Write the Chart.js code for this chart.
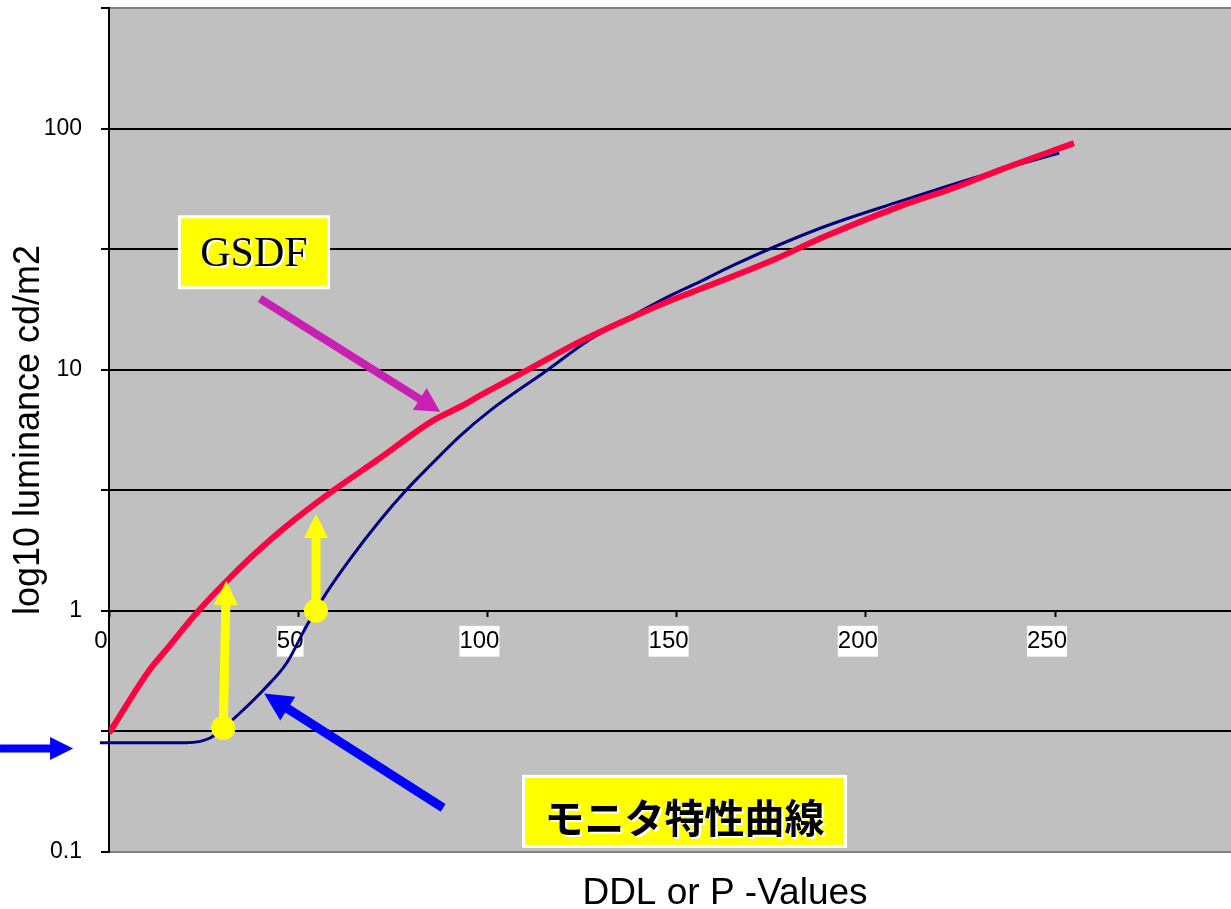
<!DOCTYPE html>
<html>
<head>
<meta charset="utf-8">
<script src="https://cdn.jsdelivr.net/npm/chart.js@4.4.1/dist/chart.umd.min.js"></script>
<style>
  html, body { margin: 0; padding: 0; background: #fff; }
</style>
</head>
<body>
<canvas id="lumGraph" width="1231" height="909"></canvas>
<script>
// GSDF (red) and monitor characteristic curve (navy)
var gsdfX = [0, 10.8, 14.8, 23.2, 31.1, 38.1, 47.0, 59.2, 70.7, 85.6, 92.8, 98.0, 110.4, 124.4, 138.5, 151.7, 156.2, 175.5, 187.9, 209.0, 223.0, 235.5, 255.0];
var gsdfY = [0.311, 0.571, 0.68, 0.983, 1.33, 1.70, 2.25, 3.15, 4.20, 6.15, 7.02, 7.8, 9.93, 13.07, 16.6, 20.3, 21.6, 28.5, 35.0, 47.6, 56.6, 67.4, 87.0];

var monitorX = [-2.4, 20.5, 26.7, 30.2, 34.6, 40.8, 47.0, 52.2, 57.5, 63.7, 71.6, 78.8, 84.8, 92.8, 100.7, 115.7, 126.2, 140.3, 148.3, 156.2, 164.9, 187.9, 209.0, 221.5, 235.5, 251.1];
var monitorY = [0.284, 0.284, 0.297, 0.327, 0.377, 0.47, 0.609, 0.865, 1.19, 1.64, 2.37, 3.20, 4.00, 5.32, 6.77, 9.93, 13.07, 17.4, 20.3, 23.2, 27.1, 38.6, 49.9, 57.7, 67.4, 79.1];

var xTicks = [0, 50, 100, 150, 200, 250];
var yTicks = [0.1, 0.3162, 1, 3.162, 10, 31.62, 100, 316.2];
var yLabels = ['0.1', '', '1', '', '10', '', '100', ''];

function toPoints(xs, ys) {
    var pts = [];
    for (var i in xs) {
        pts.push({x: xs[i], y: ys[i]});
    }
    return pts;
}

function arrow(ctx, x1, y1, x2, y2, color, lw, headLen, headW) {
    var a = Math.atan2(y2 - y1, x2 - x1);
    var bx = x2 - headLen * Math.cos(a), by = y2 - headLen * Math.sin(a);
    ctx.strokeStyle = color;
    ctx.lineWidth = lw;
    ctx.lineCap = 'butt';
    ctx.beginPath();
    ctx.moveTo(x1, y1);
    ctx.lineTo(bx + Math.cos(a), by + Math.sin(a));
    ctx.stroke();
    ctx.fillStyle = color;
    ctx.beginPath();
    ctx.moveTo(x2, y2);
    ctx.lineTo(bx + headW / 2 * Math.sin(a), by - headW / 2 * Math.cos(a));
    ctx.lineTo(bx - headW / 2 * Math.sin(a), by + headW / 2 * Math.cos(a));
    ctx.closePath();
    ctx.fill();
}

function labelBox(ctx, cx, cy, w, h, text, font, dy) {
    ctx.fillStyle = '#fff';
    ctx.fillRect(cx - w / 2, cy - h / 2, w, h);
    ctx.fillStyle = '#ffff00';
    ctx.fillRect(cx - w / 2 + 3, cy - h / 2 + 3, w - 6, h - 6);
    ctx.font = font;
    ctx.textAlign = 'center';
    ctx.textBaseline = 'middle';
    ctx.fillStyle = '#fff';
    ctx.fillText(text, cx + 2, cy + dy + 2);
    ctx.fillStyle = '#000';
    ctx.fillText(text, cx, cy + dy);
}

var backgroundPlugin = {
    id: 'plotBackground',
    beforeDraw: function(chart) {
        var ctx = chart.ctx, a = chart.chartArea;
        ctx.save();
        ctx.fillStyle = '#fff';
        ctx.fillRect(0, 0, chart.width, chart.height);
        ctx.fillStyle = '#c0c0c0';
        ctx.fillRect(a.left, a.top, a.right - a.left, a.bottom - a.top);
        ctx.restore();
    }
};

var notesPlugin = {
    id: 'notes',
    afterDatasetsDraw: function(chart) {
        var ctx = chart.ctx;
        var xs = chart.scales.x, ys = chart.scales.y;
        function px(v) { return xs.getPixelForValue(v); }
        function py(v) { return ys.getPixelForValue(v); }
        ctx.save();

        // yellow arrows from the monitor curve up to GSDF
        var yellow = [[30.2, 0.327, 31.0, 1.33], [54.7, 1.0, 54.7, 2.52]];
        for (var i in yellow) {
            var p = yellow[i];
            arrow(ctx, px(p[0]), py(p[1]), px(p[2]), py(p[3]), '#ffff00', 9, 24, 24);
            ctx.fillStyle = '#ffff00';
            ctx.beginPath();
            ctx.arc(px(p[0]), py(p[1]), 12, 0, Math.PI * 2);
            ctx.fill();
        }

        // pointer arrows
        arrow(ctx, px(39.9), py(19.7), px(87.5), py(6.69), '#c820b4', 8, 24, 26);
        arrow(ctx, px(88.3), py(0.1524), px(41.0), py(0.454), '#0000ff', 9, 28, 28);
        arrow(ctx, px(-28.8), py(0.2689), px(-9.5), py(0.2689), '#0000ff', 8, 23, 23);

        // labels
        labelBox(ctx, px(38.3), py(30.7), 152, 74, 'GSDF', '42px "Liberation Serif", "Times New Roman", serif', 3);
        labelBox(ctx, px(152.1), py(0.1474), 325, 73, 'モニタ特性曲線', 'bold 40px "Noto Sans CJK JP", sans-serif', 6);

        // x axis title
        ctx.font = '37px "Liberation Sans", Arial, sans-serif';
        ctx.fillStyle = '#000';
        ctx.textAlign = 'center';
        ctx.textBaseline = 'alphabetic';
        ctx.fillText('DDL or P -Values', 725, 904);
        ctx.restore();
    }
};

var ctx = document.getElementById('lumGraph');

var lumGraph = new Chart(ctx, {
    type: 'line',
    data: {
        datasets: [
            {
                label: 'GSDF',
                data: toPoints(gsdfX, gsdfY),
                borderColor: '#ff0040',
                borderWidth: 6,
                pointRadius: 0,
                fill: false,
                cubicInterpolationMode: 'monotone'
            },
            {
                label: 'monitor',
                data: toPoints(monitorX, monitorY),
                borderColor: '#000080',
                borderWidth: 3,
                pointRadius: 0,
                fill: false,
                cubicInterpolationMode: 'monotone',
                clip: false
            }
        ]
    },
    options: {
        responsive: false,
        animation: false,
        layout: { padding: { left: 0, right: 0, top: 8, bottom: 57 } },
        plugins: {
            legend: { display: false },
            title: { display: false },
            tooltip: { enabled: false }
        },
        scales: {
            x: {
                type: 'linear',
                min: 0,
                max: 296.5,
                position: { y: 1 },
                afterBuildTicks: function(scale) {
                    scale.ticks = xTicks.map(function(v) { return {value: v}; });
                },
                grid: { drawOnChartArea: false, drawTicks: true, tickLength: 6, tickColor: '#000', tickWidth: 2 },
                border: { display: false },
                ticks: {
                    color: '#000',
                    font: { family: '"Liberation Sans", Arial, sans-serif', size: 24 },
                    padding: 10,
                    labelOffset: -8,
                    maxRotation: 0,
                    autoSkip: false,
                    showLabelBackdrop: true,
                    backdropColor: '#fff',
                    backdropPadding: { x: 0, y: 1 }
                }
            },
            y: {
                type: 'logarithmic',
                min: 0.1,
                max: 316.23,
                afterBuildTicks: function(scale) {
                    scale.ticks = yTicks.map(function(v) { return {value: v}; });
                },
                afterFit: function(scale) {
                    scale.width = 109;
                    scale.paddingTop = 0;
                    scale.paddingBottom = 0;
                },
                grid: {
                    color: function(c) {
                        if (c.tick && (c.tick.value < 0.2 || c.tick.value > 300)) return '#808080';
                        return '#000';
                    },
                    lineWidth: 2,
                    tickLength: 8,
                    tickColor: '#000',
                    tickWidth: 2
                },
                border: { display: true, color: '#000', width: 2 },
                ticks: {
                    color: '#000',
                    font: { family: '"Liberation Sans", Arial, sans-serif', size: 23 },
                    padding: 19,
                    autoSkip: false,
                    callback: function(value, index) { return yLabels[index]; }
                },
                title: {
                    display: true,
                    text: 'log10 luminance cd/m2',
                    color: '#000',
                    font: { family: '"Liberation Sans", Arial, sans-serif', size: 36 },
                    padding: { top: 7, bottom: 0 }
                }
            }
        }
    },
    plugins: [backgroundPlugin, notesPlugin]
});
</script>
</body>
</html>
